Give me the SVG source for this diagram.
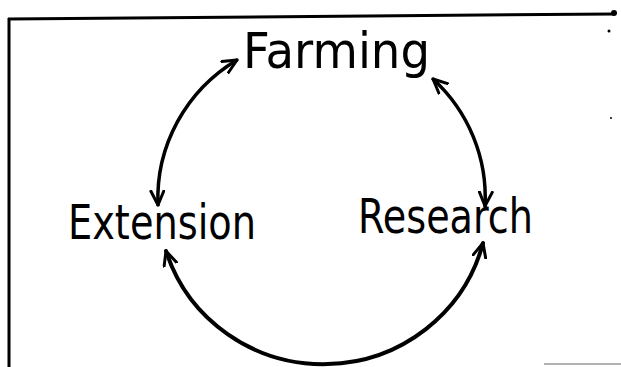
<svg xmlns="http://www.w3.org/2000/svg" width="621" height="367" viewBox="0 0 621 367">
<style>
.lbl{font-family:"DejaVu Sans","Liberation Sans",sans-serif;fill:#000;}
.arc{fill:none;stroke:#000;stroke-width:3.5;stroke-linecap:round;}
.frame{fill:none;stroke:#000;stroke-width:3;}
</style>
<defs>
<marker id="ah" viewBox="0 0 16 16" refX="15" refY="8" markerWidth="16" markerHeight="16" markerUnits="userSpaceOnUse" orient="auto-start-reverse">
<path d="M1,1.5 L15,8 L1,14.5" fill="none" stroke="#000" stroke-width="3" stroke-linejoin="round" stroke-linecap="round"/>
</marker>
</defs>
<rect width="621" height="367" fill="#fff"/>
<g id="frame">
<path class="frame" d="M8,19 L614,14"/>
<path class="frame" d="M9,18 L9,367"/>
<circle cx="614" cy="13" r="3"/>
<circle cx="609" cy="31" r="1.5"/>
<circle cx="611" cy="118" r="1"/>
<line x1="544" y1="364" x2="621" y2="364" stroke="#999" stroke-width="1.5"/>
</g>
<g id="connectors">
<path class="arc" d="M237,60 A165,162 0 0 0 158,205" marker-start="url(#ah)" marker-end="url(#ah)"/>
<path class="arc" d="M433,79 A165,162 0 0 1 485,206" marker-start="url(#ah)" marker-end="url(#ah)"/>
<path class="arc" style="stroke-width:4" d="M166,251 A165,162 0 0 0 483,243" marker-start="url(#ah)" marker-end="url(#ah)"/>
</g>
<g id="farming">
<text class="lbl" x="243" y="68" font-size="50" textLength="187" lengthAdjust="spacingAndGlyphs">Farming</text>
</g>
<g id="extension">
<text class="lbl" x="68" y="239" font-size="48" textLength="188" lengthAdjust="spacingAndGlyphs">Extension</text>
</g>
<g id="research">
<text class="lbl" x="358" y="233" font-size="48" textLength="175" lengthAdjust="spacingAndGlyphs">Research</text>
</g>
</svg>
